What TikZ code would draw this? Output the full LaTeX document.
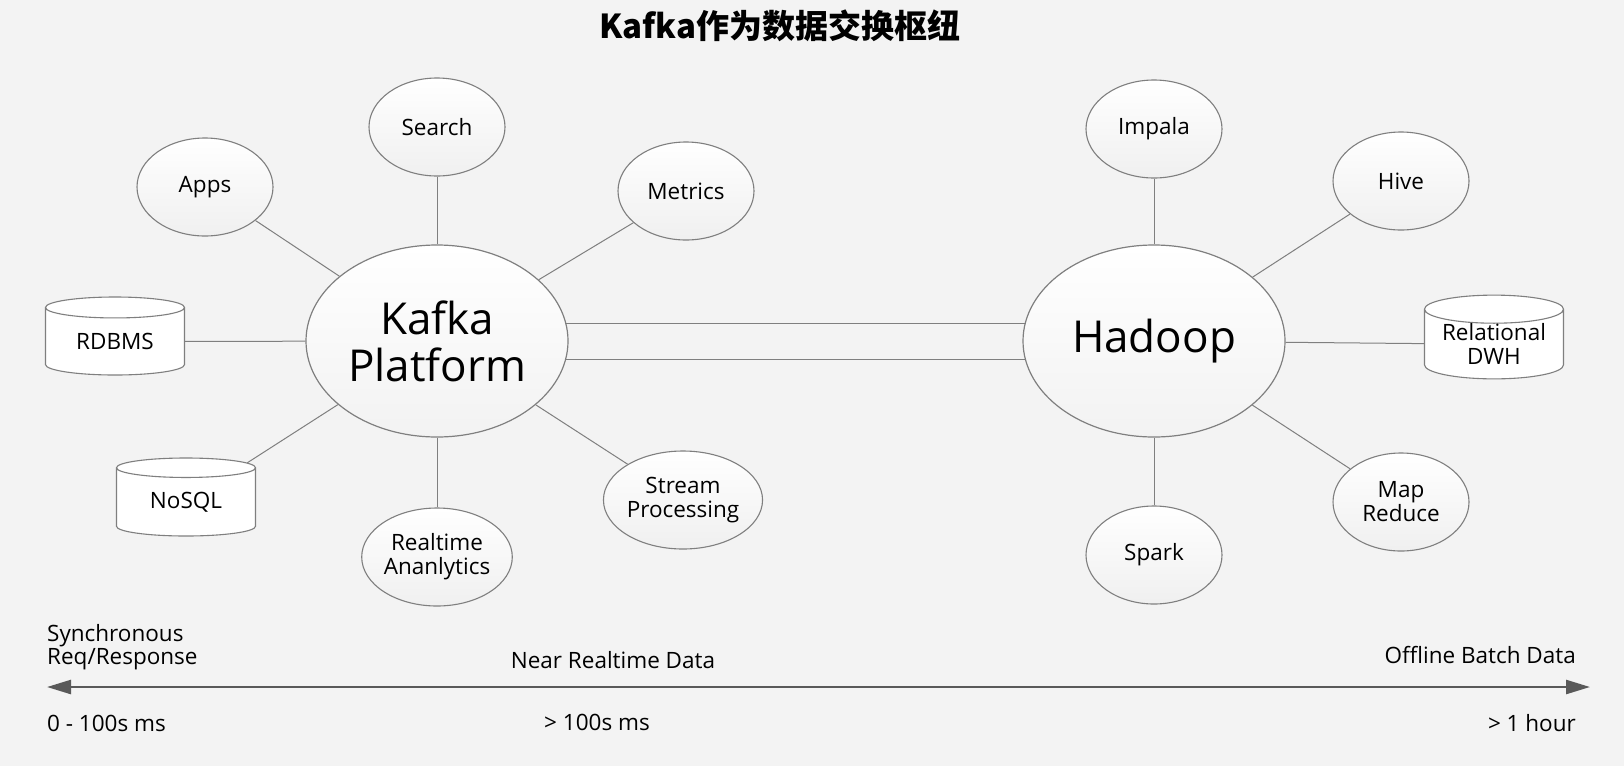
\documentclass[tikz,border=0pt]{standalone}
\usepackage{fontspec}
\setmainfont{Open Sans}
\newfontfamily\cjk{Noto Sans CJK SC}
\usepackage{tikz}
\usetikzlibrary{shapes.geometric, arrows.meta, backgrounds}

\definecolor{pagebg}{HTML}{F3F3F3}
\definecolor{rimgray}{HTML}{7F7F7F}
\definecolor{axisgray}{HTML}{595959}

\tikzset{
  hub/.style={ellipse, draw=rimgray, line width=1.2pt, top color=white, bottom color=black!5,
    minimum width=262pt, minimum height=192pt, inner sep=0pt, align=center,
    font=\fontsize{44}{47}\selectfont},
  spoke/.style={ellipse, draw=rimgray, line width=1.1pt, top color=white, bottom color=black!6,
    minimum width=136pt, minimum height=98pt, inner sep=0pt, align=center,
    font=\fontsize{22.5}{24}\selectfont},
  store/.style={cylinder, shape border rotate=90, aspect=0.27, draw=rimgray, line width=1.1pt,
    fill=white, minimum width=139pt, minimum height=78pt, inner sep=0pt, align=center,
    anchor=shape center, font=\fontsize{22.5}{24}\selectfont},
  link/.style={draw=rimgray, line width=1pt},
  tag/.style={inner sep=0pt, align=left, font=\fontsize{22.5}{23.5}\selectfont}
}

\begin{document}
\begin{tikzpicture}[x=1pt, y=-1pt]
    \useasboundingbox (0,0) rectangle (1624,766);

    % Title
    \node[font=\cjk\bfseries\fontsize{33}{36}\selectfont] (title) at (780,26) {Kafka作为数据交换枢纽};

    % Hubs
    \node[hub] (kafka) at (437,341) {Kafka\\Platform};
    \node[hub] (hadoop) at (1154,341) {Hadoop};

    % Kafka side
    \node[spoke] (search) at (437,127) {Search};
    \node[spoke] (apps) at (205,187) {Apps};
    \node[spoke] (metrics) at (686,191) {Metrics};
    \node[spoke] (stream) at (683,500) {Stream\\Processing};
    \node[spoke] (realtime) at (437,557) {Realtime\\Ananlytics};
    \node[store] (rdbms) at (115,336) {RDBMS};
    \node[store] (nosql) at (186,497) {NoSQL};

    % Hadoop side
    \node[spoke] (impala) at (1154,129) {Impala};
    \node[spoke] (hive) at (1401,181) {Hive};
    \node[spoke] (mapred) at (1401,502) {Map\\Reduce};
    \node[spoke] (spark) at (1154,555) {Spark};
    \node[store] (dwh) at (1494,337) {Relational\\DWH};

    % Spokes
    \foreach \leaf in {search, apps, metrics, stream, realtime, rdbms, nosql}
        \draw[link] (\leaf) -- (kafka);
    \foreach \leaf in {impala, hive, mapred, spark, dwh}
        \draw[link] (\leaf) -- (hadoop);

    % Latency axis
    \coordinate (slow) at (47,687);
    \coordinate (fast) at (1590,687);
    \draw[axisgray, line width=2.5pt, {Triangle[length=24pt, width=14pt]}-{Triangle[length=24pt, width=14pt]}] (slow) -- (fast);

    \node[tag, anchor=west] (sync) at (47,647) {Synchronous\\Req/Response};
    \node[tag] (near) at (613,660) {Near Realtime Data};
    \node[tag, anchor=east] (batch) at (1576,655) {Offline Batch Data};
    \node[tag, anchor=west] (fastms) at (47,723) {0 - 100s ms};
    \node[tag] (nearms) at (597,722) {> 100s ms};
    \node[tag, anchor=east] (hour) at (1576,723) {> 1 hour};

    % Background and bus
    \begin{scope}[on background layer]
        \fill[pagebg] (0,0) rectangle (1624,766);
        \draw[link] ([yshift=18pt]kafka.center) -- ([yshift=18pt]hadoop.center);
        \draw[link] ([yshift=-18pt]kafka.center) -- ([yshift=-18pt]hadoop.center);
    \end{scope}
\end{tikzpicture}
\end{document}
